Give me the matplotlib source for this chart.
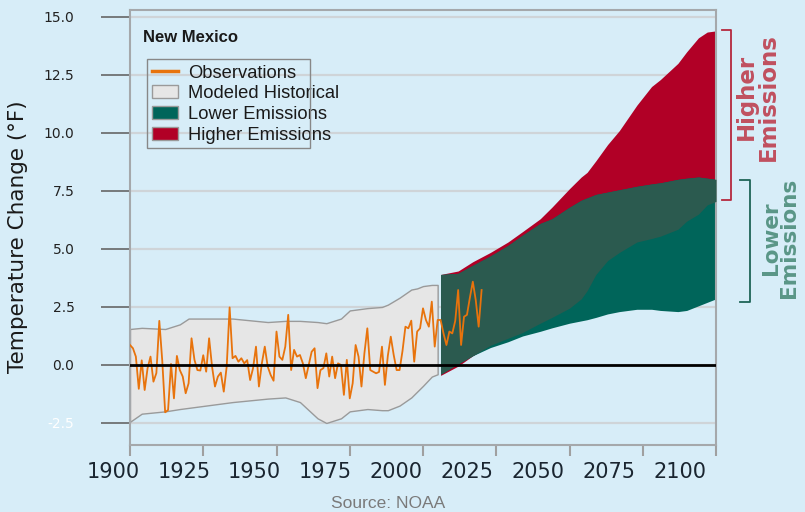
import matplotlib.pyplot as plt
from matplotlib.transforms import ScaledTranslation
from matplotlib.patches import Patch, Rectangle
from matplotlib.lines import Line2D
import numpy as np

# Observed annual temperature change (F), 1900-2020
obs_years = list(range(1900, 2021))
obs_vals = [0.86, 0.72, 0.36, -1.03, 0.2, -1.08, -0.14, 0.36, -0.72, -0.35,
            1.9, 0.2, -2.04, -1.94, 0.04, -1.44, 0.39, -0.22, -0.5, -1.22,
            -0.79, 1.15, 0.22, -0.22, -0.24, 0.42, -0.29, 1.15, -0.07, -0.93,
            -0.5, -0.33, -1.15, -0.07, 2.48, 0.29, 0.39, 0.14, 0.29, 0.07,
            0.21, -0.65,
            -0.14, 0.79, -0.93, 0.07, 0.79, -0.07, -0.43, -0.68, 1.44, 0.36,
            0.22, 0.79, 2.16, -0.22, 0.65, 0.36, 0.43, 0.07, -0.57, 0.0,
            0.57, 0.72, -1.0, -0.22, -0.14, 0.5, -0.5, 0.36, -0.57, 0.07,
            0.0, -1.29, 0.22, -1.44, -0.79, 0.86, 0.36, -0.93, 0.5, 1.58,
            -0.22, -0.29, -0.36, -0.3, 0.79, -0.86, 0.4, 1.22, 0.43, -0.22,
            -0.22, 0.6, 1.65, 1.58, 1.91, 0.14, 1.44, 1.58, 2.44, 1.94,
            1.65, 2.73, 0.79, 1.94, 1.94, 1.36, 0.86, 1.44, 1.36, 1.9,
            3.23, 0.86, 2.08, 2.16, 2.9, 3.59, 2.8, 1.65, 3.23]

# Modeled historical range
hist_years = [1900, 1904, 1912, 1917, 1920, 1935, 1947, 1953, 1958, 1964, 1967,
              1972, 1975, 1981, 1986, 1988, 1992, 1996, 1998, 2000, 2003, 2005]
hist_upper = [1.55, 1.6, 1.55, 1.75, 2.0, 2.0, 1.85, 1.9, 1.9, 1.85, 1.8,
              2.0, 2.35, 2.45, 2.5, 2.6, 2.9, 3.25, 3.3, 3.4, 3.45, 3.45]
hist_lower = [-2.45, -2.1, -2.0, -1.9, -1.85, -1.6, -1.45, -1.4, -1.6, -2.3, -2.5,
              -2.3, -2.0, -1.9, -1.95, -1.95, -1.75, -1.4, -1.15, -0.9, -0.5, -0.4]

# Projections
proj_years = [2006, 2012, 2017, 2023, 2029, 2034, 2040, 2044, 2050, 2054, 2056,
              2059, 2063, 2067, 2073, 2078, 2081, 2087, 2090, 2094, 2097, 2100]
high_upper = [3.9, 4.05, 4.45, 4.85, 5.3, 5.75, 6.3, 6.8, 7.6, 8.1, 8.3,
              8.8, 9.5, 10.1, 11.2, 12.0, 12.3, 13.0, 13.5, 14.1, 14.35, 14.4]
high_lower = [-0.45, -0.05, 0.4, 0.85, 1.15, 1.4, 1.8, 2.05, 2.45, 2.85, 3.2,
              3.9, 4.5, 4.85, 5.3, 5.45, 5.55, 5.85, 6.2, 6.5, 6.9, 7.05]
low_upper = [3.9, 3.95, 4.3, 4.7, 5.15, 5.6, 6.1, 6.3, 6.8, 7.1, 7.2,
             7.35, 7.45, 7.55, 7.7, 7.8, 7.85, 8.0, 8.05, 8.1, 8.05, 8.0]
low_lower = [-0.4, 0.05, 0.4, 0.75, 1.0, 1.25, 1.45, 1.6, 1.8, 1.9, 1.95,
             2.05, 2.2, 2.3, 2.4, 2.4, 2.35, 2.3, 2.35, 2.55, 2.7, 2.85]

x_ticks = [1900, 1925, 1950, 1975, 2000, 2025, 2050, 2075, 2100]
y_ticks = [-2.5, 0.0, 2.5, 5.0, 7.5, 10.0, 12.5, 15.0]

bg = "#d7edf8"
red = "#b10026"
teal = "#00655a"
overlap = "#2b5a4f"
orange = "#e8730c"

fig = plt.figure(figsize=(8.05, 5.12), dpi=100, facecolor=bg)
ax = fig.add_axes([130 / 805, 1 - 445 / 512, 586 / 805, 435 / 512], facecolor=bg)

ax.set_xlim(1900, 2100)
ax.set_ylim(-3.45, 15.3)

# gridlines
ax.set_yticks(y_ticks)
ax.yaxis.grid(True, color="#cfd4d8", lw=1.6, zorder=0)
ax.set_axisbelow(True)

# modeled historical
ax.fill_between(hist_years, hist_lower, hist_upper, facecolor="#e6e6e6",
                edgecolor="#9a9a9a", lw=1, zorder=2)

# projections
hu = np.array(high_upper)
hl = np.array(high_lower)
lu = np.array(low_upper)
ll = np.array(low_lower)
ax.fill_between(proj_years, hl, hu, color=red, lw=0, zorder=2)
ax.fill_between(proj_years, ll, lu, color=teal, lw=0, zorder=2)
ax.fill_between(proj_years, np.maximum(hl, ll), np.minimum(hu, lu),
                color=overlap, lw=0, zorder=3)

# observations
ax.plot(obs_years, obs_vals, color=orange, lw=1.3, zorder=4)

ax.axhline(0, color="black", lw=2, zorder=5)

for s in ax.spines.values():
    s.set_color("#a5a8ab")
    s.set_linewidth(1.5)

# y axis
ax.tick_params(axis="y", direction="out", length=21, width=1.2, color="#666666",
               pad=19, labelsize=10, labelcolor="#222222")
ax.set_yticklabels([f"{v:.1f}" for v in y_ticks])
ax.get_yticklabels()[0].set_color("white")

# x axis
ax.set_xticks(x_ticks)
ax.set_xticklabels([str(v) for v in x_ticks])
ax.tick_params(axis="x", direction="out", length=8, width=1.5, color="#a0a0a0",
               pad=4, labelsize=15, labelcolor="#1a2530")
for i, lbl in enumerate(ax.get_xticklabels()):
    dx = -(17 + 2.4 * i) / 100
    lbl.set_transform(lbl.get_transform() + ScaledTranslation(dx, 0, fig.dpi_scale_trans))

fig.text(18 / 805, 1 - 237 / 512, "Temperature Change (°F)", rotation=90,
         ha="center", va="center", fontsize=15.5, color="#1a1a1a")

# title + legend (frame is narrower than the labels, as in the original)
fig.text(143 / 805, 1 - 38 / 512, "New Mexico", fontsize=12, fontweight="bold",
         color="#1a1a1a", va="center", ha="left", family="Liberation Sans")
handles = [Line2D([], [], color=orange, lw=2.5),
           Patch(facecolor="#e6e6e6", edgecolor="#9a9a9a"),
           Patch(facecolor=teal, edgecolor="#9a9a9a"),
           Patch(facecolor=red, edgecolor="#9a9a9a")]
labels = ["Observations", "Modeled Historical", "Lower Emissions", "Higher Emissions"]
fig.add_artist(Rectangle((147 / 805, 1 - 148 / 512), 163 / 805, 89 / 512,
                         transform=fig.transFigure, facecolor="none",
                         edgecolor="#888888", lw=1, zorder=6))
leg = ax.legend(handles, labels, loc="upper left",
                bbox_to_anchor=(148 / 805, 1 - 61 / 512), bbox_transform=fig.transFigure,
                borderaxespad=0, frameon=False,
                prop={"family": "Liberation Sans", "size": 13.2},
                handlelength=1.45, handleheight=0.72, labelspacing=0.2,
                borderpad=0.2, handletextpad=0.55)
for t in leg.get_texts():
    t.set_color("#1a1a1a")

# right-side annotations
fig.text(757 / 805, 1 - 97 / 512, "Higher\nEmissions", rotation=90, ha="center",
         va="center", multialignment="center", fontsize=16.5, fontweight="bold",
         color="#c0505f", linespacing=0.95)
fig.text(780 / 805, 1 - 238 / 512, "Lower\nEmissions", rotation=90, ha="center",
         va="center", multialignment="center", fontsize=15.5, fontweight="bold",
         color="#5a9687", linespacing=0.9)
fig.add_artist(Line2D([722 / 805, 731 / 805, 731 / 805, 722 / 805],
                      [1 - 30 / 512, 1 - 30 / 512, 1 - 200 / 512, 1 - 200 / 512],
                      color="#b5283d", lw=1.3))
fig.add_artist(Line2D([740 / 805, 750 / 805, 750 / 805, 740 / 805],
                      [1 - 180 / 512, 1 - 180 / 512, 1 - 302 / 512, 1 - 302 / 512],
                      color="#1f6457", lw=1.3))

fig.text(388 / 805, 1 - 503 / 512, "Source: NOAA", ha="center", va="center",
         fontsize=12.5, color="#7a7a7a", family="Liberation Sans")

fig.savefig("out.png", dpi=100, facecolor=bg)
